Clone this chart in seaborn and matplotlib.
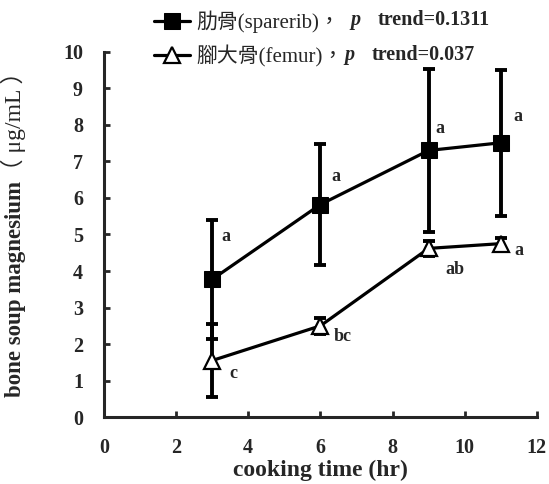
import matplotlib
matplotlib.use("Agg")
import matplotlib.pyplot as plt
import pandas as pd
import seaborn as sns

hours = [3, 6, 9, 11]
sparerib_mean = [3.77, 5.82, 7.30, 7.51]
sparerib_sd = [1.63, 1.65, 2.22, 2.00]
femur_mean = [1.55, 2.50, 4.62, 4.75]
femur_sd = [1.00, 0.22, 0.20, 0.15]
sparerib_letters = ["a", "a", "a", "a"]
femur_letters = ["c", "bc", "ab", "a"]
sparerib_label = "肋骨(sparerib)，"
femur_label = "腳大骨(femur)，"
sparerib_trend = "trend=0.1311"
femur_trend = "trend=0.037"

sns.set_theme(style="ticks")
plt.rcParams["font.family"] = ["Liberation Serif", "Noto Sans CJK TC"]

df = pd.DataFrame({
    "hr": hours * 2,
    "mg": sparerib_mean + femur_mean,
    "bone": ["sparerib"] * 4 + ["femur"] * 4,
})

fig = plt.figure(figsize=(5.49, 4.84), dpi=100)
ax = fig.add_axes([0.189, 0.138, 0.789, 0.755])

sns.lineplot(data=df[df.bone == "sparerib"], x="hr", y="mg", color="black",
             marker="s", markersize=11, markeredgecolor="black", linewidth=2.3,
             label=sparerib_label, ax=ax, zorder=3)
sns.lineplot(data=df[df.bone == "femur"], x="hr", y="mg", color="black",
             marker="^", markersize=11, markerfacecolor="white", markeredgecolor="black",
             markeredgewidth=1.6, linewidth=2.3, label=femur_label, ax=ax, zorder=3)
ax.errorbar(hours, sparerib_mean, yerr=sparerib_sd, fmt="none", ecolor="black",
            elinewidth=2.8, capsize=4, capthick=2.8, zorder=2)
ax.errorbar(hours, femur_mean, yerr=femur_sd, fmt="none", ecolor="black",
            elinewidth=2.8, capsize=4, capthick=2.8, zorder=2)

s_off = [(10, 31), (11, 20), (8, 16), (12, 19)]
f_off = [(15, -9), (16, -8), (19, -15), (13, -5)]
for x, y, t, o in zip(hours, sparerib_mean, sparerib_letters, s_off):
    ax.annotate(t, (x, y), xytext=o, textcoords="offset points", ha="center",
                va="center", fontsize=13, fontweight="bold")
for x, y, t, o in zip(hours, femur_mean, femur_letters, f_off):
    ax.annotate(t, (x, y), xytext=o, textcoords="offset points", ha="center",
                va="center", fontsize=13, fontweight="bold")

ax.set_xlim(0, 12)
ax.set_ylim(0, 10)
ax.set_xticks(range(0, 13, 2))
ax.set_yticks(range(0, 11))
sns.despine(ax=ax)
for s in ["left", "bottom"]:
    ax.spines[s].set_linewidth(2.2)
ax.tick_params(direction="in", length=4, width=2, labelsize=14.5)
ax.tick_params(axis="x", pad=15)
ax.tick_params(axis="y", pad=15)
for lab in ax.get_xticklabels() + ax.get_yticklabels():
    lab.set_fontweight("bold")
ax.set_xlabel("cooking time (hr)", fontsize=17, fontweight="bold", labelpad=1)

# y label: bold part + regular unit part, both on the same baseline
ax.set_ylabel("bone soup magnesium", fontsize=16.5, fontweight="bold", va="baseline")
ax.yaxis.set_label_coords(-0.192, 0.35)
ax.text(-0.192, 0.645, "（ μg/mL ）", transform=ax.transAxes, rotation=90,
        rotation_mode="anchor", ha="left", va="baseline", fontsize=17)

leg = ax.legend(loc="upper left", bbox_to_anchor=(0.262, 1.0), bbox_transform=fig.transFigure,
                frameon=False, fontsize=15, handlelength=1.7, handletextpad=0.3,
                labelspacing=0.6, borderaxespad=0.1)
p_off = [8, 1]
for txt, trend, dx in zip(leg.get_texts(), [sparerib_trend, femur_trend], p_off):
    p = ax.annotate("p", xy=(1, 0), xycoords=txt, xytext=(dx, 2), textcoords="offset points",
                    ha="left", va="bottom", fontsize=14.5, fontstyle="italic",
                    fontweight="bold", zorder=6)
    ax.annotate(trend, xy=(1, 0), xycoords=p, xytext=(12, 0), textcoords="offset points",
                ha="left", va="bottom", fontsize=14.5, fontweight="bold", zorder=7)

fig.savefig("out.png", dpi=100)
